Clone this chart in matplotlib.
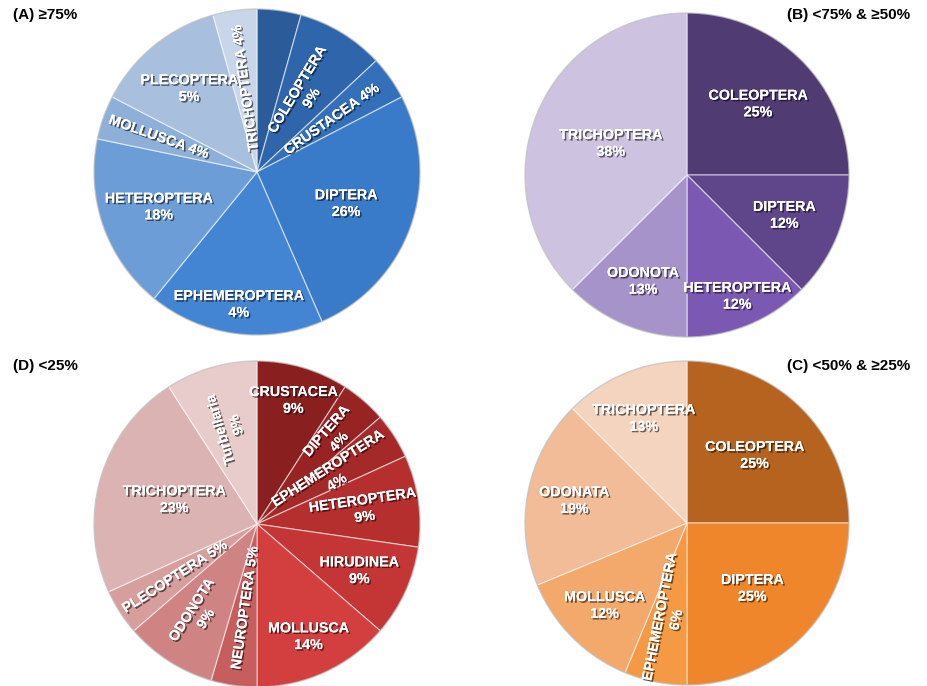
import numpy as np
import matplotlib
matplotlib.use("Agg")
import matplotlib.pyplot as plt
import matplotlib.patheffects as pe

plt.rcParams['font.family'] = ['Liberation Sans', 'DejaVu Sans']

# ---------------- data ----------------
# (A) >=75%
a_names = ["", "COLEOPTERA", "CRUSTACEA", "DIPTERA", "EPHEMEROPTERA",
           "HETEROPTERA", "MOLLUSCA", "PLECOPTERA", "TRICHOPTERA"]
a_values = [1, 2, 1, 6, 4, 4, 1, 3, 1]
a_pct = ["", "9%", "4%", "26%", "4%", "18%", "4%", "5%", "4%"]

# (B) <75% & >=50%
b_names = ["COLEOPTERA", "DIPTERA", "HETEROPTERA", "ODONOTA", "TRICHOPTERA"]
b_values = [2, 1, 1, 1, 3]
b_pct = ["25%", "12%", "12%", "13%", "38%"]

# (C) <50% & >=25%
c_names = ["COLEOPTERA", "DIPTERA", "EPHEMEROPTERA", "MOLLUSCA", "ODONATA", "TRICHOPTERA"]
c_values = [4, 4, 1, 2, 3, 2]
c_pct = ["25%", "25%", "6%", "12%", "19%", "13%"]

# (D) <25%
d_names = ["CRUSTACEA", "DIPTERA", "EPHEMEROPTERA", "HETEROPTERA", "HIRUDINEA",
           "MOLLUSCA", "NEUROPTERA", "ODONOTA", "PLECOPTERA", "TRICHOPTERA", "Turbellaria"]
d_values = [2, 1, 1, 2, 2, 3, 1, 2, 1, 5, 2]
d_pct = ["9%", "4%", "4%", "9%", "9%", "14%", "5%", "9%", "5%", "23%", "9%"]

titles = ["(A) \u226575%", "(B) <75% & \u226550%", "(C) <50% & \u226525%", "(D) <25%"]

# ---------------- styling / layout ----------------
W, H = 928, 686
fig = plt.figure(figsize=(W / 100, H / 100), dpi=100)
ax = fig.add_axes([0, 0, 1, 1])

a_colors = ["#2b5c99", "#2f66ab", "#3470ba", "#3a7bc9", "#4385d3",
            "#6d9dd6", "#8eafd8", "#a8bfdd", "#c9d5e8"]
b_colors = ["#503b73", "#5f468b", "#7b58b1", "#a693c9", "#cdc2df"]
c_colors = ["#b5631f", "#ef862b", "#f49a45", "#f3a86c", "#f1bc97", "#f5d4bf"]
d_colors = ["#8a1f1f", "#972323", "#a62929", "#b52f2f", "#c43535",
            "#d33e3e", "#c65e5e", "#d08383", "#d79e9e", "#dcb3b3", "#e8cbcb"]

# label layout: radial distance (fraction of radius), rotate radially?, single line?
a_dist = [0.5, 0.56, 0.56, 0.58, 0.82, 0.64, 0.64, 0.66, 0.52]
a_rot = [False, True, True, False, False, False, True, False, True]
a_one = [False, False, True, False, False, False, True, False, True]

b_dist = [0.62, 0.65, 0.81, 0.71, 0.51]
b_rot = [False] * 5
b_one = [False] * 5

c_dist = [0.59, 0.57, 0.60, 0.72, 0.71, 0.70]
c_rot = [False, False, True, False, False, False]
c_one = [False] * 6

d_dist = [0.79, 0.71, 0.55, 0.66, 0.69, 0.76, 0.52, 0.66, 0.60, 0.53, 0.62]
d_rot = [False, True, True, True, False, False, True, True, True, False, True]
d_one = [False, False, False, False, False, False, True, False, True, False, False]

pies = [
    (a_names, a_values, a_pct, a_colors, a_dist, a_rot, a_one, (257, 172), 163),
    (b_names, b_values, b_pct, b_colors, b_dist, b_rot, b_one, (687, 175), 162),
    (c_names, c_values, c_pct, c_colors, c_dist, c_rot, c_one, (687, 523), 162),
    (d_names, d_values, d_pct, d_colors, d_dist, d_rot, d_one, (257, 524), 163),
]

shadow = [pe.withSimplePatchShadow(offset=(1.2, -1.2), shadow_rgbFace="#000000", alpha=0.55),
          pe.Normal()]

for names, vals, pcts, cols, dist, rot, one, (cx, cy), r in pies:
    cyy = H - cy
    ax.pie(vals, colors=cols, startangle=90, counterclock=False,
           center=(cx, cyy), radius=r,
           wedgeprops=dict(edgecolor=(1, 1, 1, 0.55), linewidth=0.9))
    ax.add_patch(plt.Circle((cx, cyy), r, fill=False, edgecolor=(0.5, 0.5, 0.5, 0.35),
                            linewidth=1.0))
    total = float(sum(vals))
    cum = 0.0
    for i, v in enumerate(vals):
        start = cum
        cum += v
        if not names[i]:
            continue
        mid = (start + v / 2) / total * 360.0  # clockwise from top
        ang = np.deg2rad(90 - mid)
        x = cx + dist[i] * r * np.cos(ang)
        y = cyy + dist[i] * r * np.sin(ang)
        rotation = 0
        if rot[i]:
            rotation = (90 - mid) % 360
            if 90 < rotation < 270 and not (rotation < 115 and mid > 300):
                rotation -= 180
        sep = " " if one[i] else "\n"
        ax.text(x, y, names[i] + sep + pcts[i], ha="center", va="center",
                rotation=rotation, rotation_mode="anchor", color="white",
                fontsize=10.3, fontweight="bold", linespacing=1.25,
                path_effects=shadow, multialignment="center")

ax.text(13, H - 15, titles[0], ha="left", va="center", fontsize=11, fontweight="bold")
ax.text(910, H - 15, titles[1], ha="right", va="center", fontsize=11, fontweight="bold")
ax.text(910, H - 366, titles[2], ha="right", va="center", fontsize=11, fontweight="bold")
ax.text(13, H - 366, titles[3], ha="left", va="center", fontsize=11, fontweight="bold")

ax.set_xlim(0, W)
ax.set_ylim(0, H)
ax.set_aspect("auto")
ax.axis("off")
fig.savefig("out.png", dpi=100, facecolor="white")
